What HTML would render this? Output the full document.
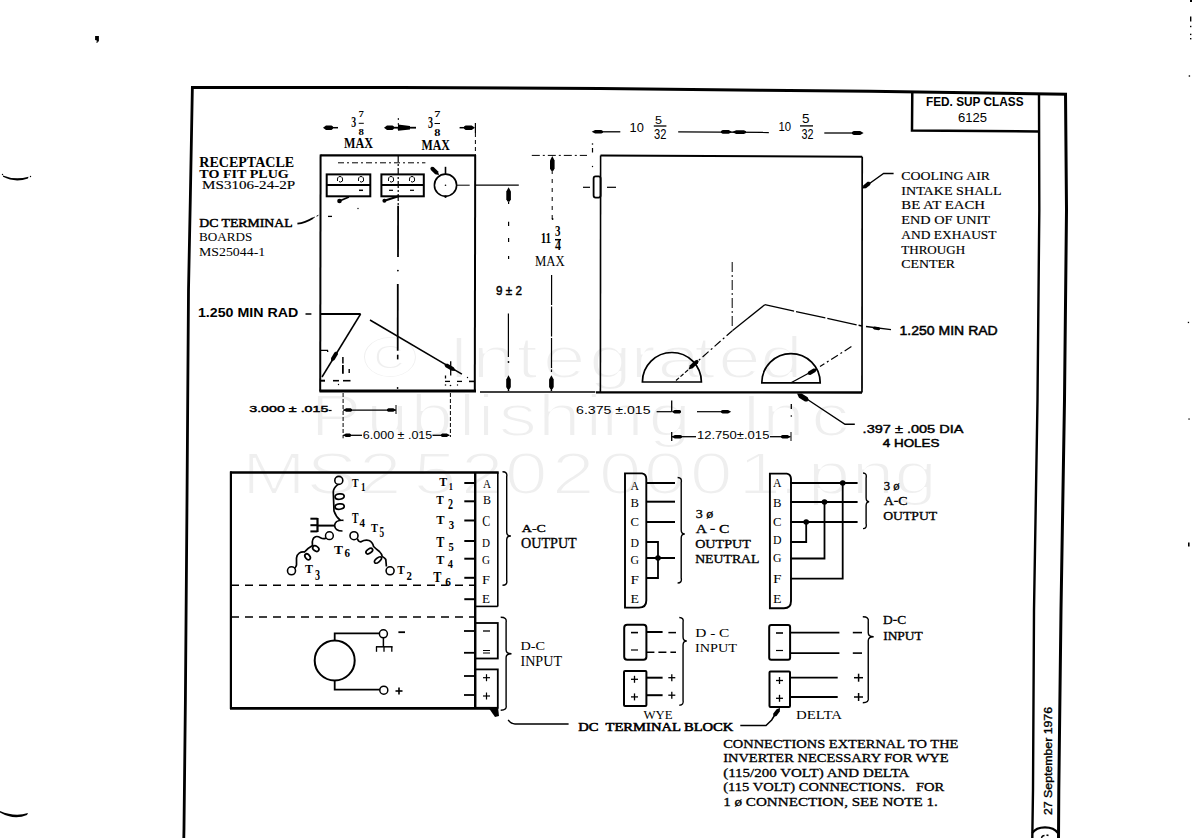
<!DOCTYPE html>
<html><head><meta charset="utf-8"><style>
html,body{margin:0;padding:0;background:#fff;}
body{width:1192px;height:838px;overflow:hidden;}
svg{display:block;}
</style></head><body>
<svg width="1192" height="838" viewBox="0 0 1192 838" stroke-linecap="butt">
<rect width="1192" height="838" fill="#fff"/>
<g font-family='"Liberation Sans", sans-serif' font-size="58.5" fill="#efefef" stroke="#fff" stroke-width="2">
<text transform="translate(361.51,378.4) scale(1.32,1)">©</text>
<text transform="translate(448.35,378.4) scale(1.32,1)">I</text>
<text transform="translate(472.15,378.4) scale(1.32,1)">n</text>
<text transform="translate(516.41,378.4) scale(1.32,1)">t</text>
<text transform="translate(542.80,378.4) scale(1.32,1)">e</text>
<text transform="translate(588.94,378.4) scale(1.32,1)">g</text>
<text transform="translate(630.15,378.4) scale(1.32,1)">r</text>
<text transform="translate(657.20,378.4) scale(1.32,1)">a</text>
<text transform="translate(693.91,378.4) scale(1.32,1)">t</text>
<text transform="translate(718.00,378.4) scale(1.32,1)">e</text>
<text transform="translate(760.04,378.4) scale(1.32,1)">d</text>
<text transform="translate(310.35,435.6) scale(1.32,1)">P</text>
<text transform="translate(365.67,435.6) scale(1.32,1)">u</text>
<text transform="translate(410.20,435.6) scale(1.32,1)">b</text>
<text transform="translate(458.58,435.6) scale(1.32,1)">l</text>
<text transform="translate(477.41,435.6) scale(1.32,1)">i</text>
<text transform="translate(498.53,435.6) scale(1.32,1)">s</text>
<text transform="translate(537.63,435.6) scale(1.32,1)">h</text>
<text transform="translate(585.21,435.6) scale(1.32,1)">i</text>
<text transform="translate(601.05,435.6) scale(1.32,1)">n</text>
<text transform="translate(648.24,435.6) scale(1.32,1)">g</text>
<text transform="translate(740.75,435.6) scale(1.32,1)">I</text>
<text transform="translate(762.05,435.6) scale(1.32,1)">n</text>
<text transform="translate(810.90,435.6) scale(1.32,1)">c</text>
<text transform="translate(241.85,494.2) scale(1.32,1)">M</text>
<text transform="translate(306.17,494.2) scale(1.32,1)">S</text>
<text transform="translate(358.80,494.2) scale(1.32,1)">2</text>
<text transform="translate(413.59,494.2) scale(1.32,1)">5</text>
<text transform="translate(460.80,494.2) scale(1.32,1)">2</text>
<text transform="translate(504.66,494.2) scale(1.32,1)">0</text>
<text transform="translate(551.80,494.2) scale(1.32,1)">2</text>
<text transform="translate(598.66,494.2) scale(1.32,1)">0</text>
<text transform="translate(643.66,494.2) scale(1.32,1)">0</text>
<text transform="translate(689.66,494.2) scale(1.32,1)">0</text>
<text transform="translate(738.30,494.2) scale(1.32,1)">1</text>
<text transform="translate(778.63,494.2) scale(1.32,1)">.</text>
<text transform="translate(807.50,494.2) scale(1.32,1)">p</text>
<text transform="translate(851.55,494.2) scale(1.32,1)">n</text>
<text transform="translate(894.14,494.2) scale(1.32,1)">g</text>
</g>
<path d="M95.1,36 L98.9,36 L98.9,41.5 L97.8,41.5 L97.3,43 L96.5,43 L96.8,40.5 L95.1,40 Z" fill="#000"/>
<path d="M3,175.5 Q15,180.5 28.5,176.8 L28,178.5 Q15,183 3,176.8 Z" fill="#000"/>
<circle cx="2.5" cy="174.5" r="0.7" fill="#000"/>
<circle cx="30.5" cy="176.5" r="0.7" fill="#000"/>
<path d="M0,811 Q15,817.3 28,813 L27,815 Q14,820.5 0,812.5 Z" fill="#000"/>
<rect x="1190" y="0" width="2" height="2" fill="#000"/>
<rect x="1190" y="16.5" width="1.4" height="5" fill="#000"/>
<rect x="1190" y="25.8" width="1.4" height="1.4" fill="#000"/>
<rect x="1190" y="33.699999999999996" width="1.4" height="1.4" fill="#000"/>
<rect x="1190" y="38.0" width="1.4" height="1.4" fill="#000"/>
<rect x="1188.7" y="75.3" width="1.4" height="1.4" fill="#000"/>
<rect x="1187.8" y="321.8" width="1.3" height="1.3" fill="#000"/>
<rect x="1188.4" y="418.4" width="1.3" height="1.3" fill="#000"/>
<rect x="1188" y="542.5" width="1.6" height="4" fill="#000"/>
<polyline points="191,87.5 400,87.6 600,88.5 760,90.2 870,91.2 1067,94.2" fill="none" stroke="#000" stroke-width="3"/>
<polyline points="192.4,86 190.3,200 188.5,290 187,500 185.4,700 184,828 183.8,838" fill="none" stroke="#000" stroke-width="2.8"/>
<polyline points="1065.5,93 1066.5,210 1064.5,400 1061,610 1058.8,790 1058.5,838" fill="none" stroke="#000" stroke-width="3"/>
<polyline points="1039,94 1039.3,210 1037.5,400 1034,610 1033,790 1032.3,838" fill="none" stroke="#000" stroke-width="2.4"/>
<polyline points="912.3,91 912,130.5 1038.5,131.5" fill="none" stroke="#000" stroke-width="2.5"/>
<text x="926.00" y="105.50" font-family='"Liberation Sans", sans-serif' font-weight="bold" font-size="12.35" fill="#000" textLength="97.5" lengthAdjust="spacingAndGlyphs" style="white-space:pre">FED. SUP CLASS</text>
<text x="958.00" y="122.00" font-family='"Liberation Sans", sans-serif' font-weight="normal" font-size="13.08" fill="#000" textLength="29.0" lengthAdjust="spacingAndGlyphs" style="white-space:pre">6125</text>
<path d="M1032.3,833 Q1036,827.3 1045,827.3 Q1054,827.3 1058,833" fill="none" stroke="#000" stroke-width="2.2"/>
<path d="M1041.5,838 Q1042,835.5 1044.5,835.5" fill="none" stroke="#000" stroke-width="1.4"/>
<line x1="1046.5" y1="835" x2="1048.5" y2="835.5" stroke="#000" stroke-width="1.8"/>
<text transform="translate(1052.3,815) rotate(-90)" font-family='"Liberation Sans", sans-serif' font-weight="normal" font-size="10.5" stroke="#000" stroke-width="0.35" textLength="108" lengthAdjust="spacingAndGlyphs">27 September 1976</text>
<line x1="320.5" y1="155.3" x2="475.2" y2="155.3" stroke="#000" stroke-width="2.2"/>
<line x1="320.6" y1="154.5" x2="320.2" y2="391.5" stroke="#000" stroke-width="2"/>
<line x1="475.2" y1="155" x2="474.8" y2="391.5" stroke="#000" stroke-width="2"/>
<line x1="319.5" y1="391" x2="476" y2="391" stroke="#000" stroke-width="2.8"/>
<path d="M323.00,127.70 L326.00,129.95 L331.50,129.95 L333.00,128.82 L333.00,126.58 L331.50,125.45 L326.00,125.45 Z" fill="#000"/>
<line x1="333" y1="127.7" x2="338" y2="127.7" stroke="#000" stroke-width="1.5"/>
<path d="M384.00,127.70 L387.00,129.95 L392.50,129.95 L394.00,128.82 L394.00,126.58 L392.50,125.45 L387.00,125.45 Z" fill="#000"/>
<line x1="394" y1="127.7" x2="416" y2="127.7" stroke="#000" stroke-width="1.8"/>
<path d="M398,124.5 L410,126 L410,129.5 L398,130.8 Z" fill="#000"/>
<path d="M475.00,127.70 L471.70,125.45 L465.65,125.45 L464.00,126.58 L464.00,128.82 L465.65,129.95 L471.70,129.95 Z" fill="#000"/>
<line x1="459.6" y1="127.7" x2="466" y2="127.7" stroke="#000" stroke-width="1.5"/>
<line x1="475.4" y1="123" x2="475.4" y2="133" stroke="#000" stroke-width="1.2"/>
<line x1="475.4" y1="133" x2="475.4" y2="155" stroke="#000" stroke-width="1" stroke-dasharray="4,3"/>
<line x1="398.3" y1="118" x2="398.3" y2="133" stroke="#000" stroke-width="1" stroke-dasharray="2,3"/>
<text x="351.30" y="126.80" font-family='"Liberation Serif", serif' font-weight="bold" font-size="13.59" fill="#000" textLength="4.9" lengthAdjust="spacingAndGlyphs" style="white-space:pre">3</text>
<text x="358.60" y="117.20" font-family='"Liberation Serif", serif' font-weight="bold" font-size="8.55" fill="#000" textLength="5.4" lengthAdjust="spacingAndGlyphs" style="white-space:pre">7</text>
<line x1="358.7" y1="123.3" x2="363.8" y2="123.3" stroke="#000" stroke-width="1"/>
<text x="358.60" y="135.00" font-family='"Liberation Serif", serif' font-weight="bold" font-size="9.16" fill="#000" textLength="5.4" lengthAdjust="spacingAndGlyphs" style="white-space:pre">8</text>
<text x="344.00" y="148.30" font-family='"Liberation Serif", serif' font-weight="bold" font-size="13.59" fill="#000" textLength="29.0" lengthAdjust="spacingAndGlyphs" style="white-space:pre">MAX</text>
<text x="428.00" y="127.80" font-family='"Liberation Serif", serif' font-weight="bold" font-size="16.03" fill="#000" textLength="5.0" lengthAdjust="spacingAndGlyphs" style="white-space:pre">3</text>
<text x="434.30" y="117.40" font-family='"Liberation Serif", serif' font-weight="bold" font-size="8.85" fill="#000" textLength="6.2" lengthAdjust="spacingAndGlyphs" style="white-space:pre">7</text>
<line x1="434.5" y1="123.5" x2="440" y2="123.5" stroke="#000" stroke-width="1"/>
<text x="434.30" y="135.80" font-family='"Liberation Serif", serif' font-weight="bold" font-size="9.92" fill="#000" textLength="6.2" lengthAdjust="spacingAndGlyphs" style="white-space:pre">8</text>
<text x="421.50" y="150.00" font-family='"Liberation Serif", serif' font-weight="bold" font-size="13.74" fill="#000" textLength="28.5" lengthAdjust="spacingAndGlyphs" style="white-space:pre">MAX</text>
<line x1="338" y1="162.8" x2="425.4" y2="162.8" stroke="#000" stroke-width="1" stroke-dasharray="6,3,2,3"/>
<rect x="326.7" y="174.4" width="43.60000000000002" height="21.900000000000006" rx="0" fill="none" stroke="#000" stroke-width="2"/>
<line x1="326.7" y1="184.9" x2="370.3" y2="184.9" stroke="#000" stroke-width="2"/>
<rect x="381.4" y="174.4" width="42.400000000000034" height="21.900000000000006" rx="0" fill="none" stroke="#000" stroke-width="2"/>
<line x1="381.4" y1="184.9" x2="423.8" y2="184.9" stroke="#000" stroke-width="2"/>
<path d="M337.5,181 Q337,176.5 340,176.5 Q343,176.5 342.5,181 Q340,183 339,181.5" fill="none" stroke="#000" stroke-width="1"/>
<path d="M358.5,181 Q358,176.5 361,176.5 Q364,176.5 363.5,181 Q361,183 360,181.5" fill="none" stroke="#000" stroke-width="1"/>
<path d="M388.5,181 Q388,176.5 391,176.5 Q394,176.5 393.5,181 Q391,183 390,181.5" fill="none" stroke="#000" stroke-width="1"/>
<path d="M409.5,181 Q409,176.5 412,176.5 Q415,176.5 414.5,181 Q412,183 411,181.5" fill="none" stroke="#000" stroke-width="1"/>
<line x1="359" y1="190.3" x2="363" y2="190.3" stroke="#000" stroke-width="1.5"/>
<line x1="389" y1="190.3" x2="393" y2="190.3" stroke="#000" stroke-width="1.2"/>
<line x1="410" y1="190.3" x2="414" y2="190.3" stroke="#000" stroke-width="1.2"/>
<circle cx="339.5" cy="201" r="2.3" fill="#000" stroke="#000" stroke-width="0"/>
<line x1="339.5" y1="201" x2="348.9" y2="197" stroke="#000" stroke-width="1.8"/>
<circle cx="384.4" cy="200.7" r="2" fill="#000" stroke="#000" stroke-width="0"/>
<line x1="384.4" y1="200.7" x2="398.5" y2="196.3" stroke="#000" stroke-width="2"/>
<line x1="398.2" y1="155" x2="398.2" y2="205" stroke="#000" stroke-width="1.2" stroke-dasharray="7,2,2,2"/>
<line x1="398.1" y1="205.7" x2="398" y2="257" stroke="#000" stroke-width="1.8"/>
<circle cx="397.9" cy="270.6" r="0.9" fill="#000"/>
<line x1="397.8" y1="284" x2="397.7" y2="350.8" stroke="#000" stroke-width="1.8"/>
<line x1="397.7" y1="354.7" x2="397.7" y2="359.4" stroke="#000" stroke-width="1.6"/>
<circle cx="397.6" cy="388" r="0.9" fill="#000"/>
<circle cx="445.5" cy="185.2" r="11.1" fill="none" stroke="#000" stroke-width="1.6"/>
<line x1="445.5" y1="166.8" x2="445.5" y2="174.5" stroke="#000" stroke-width="1.6"/>
<path d="M439.00,175.00 L437.98,171.27 L433.58,167.09 L431.69,166.68 L430.31,168.12 L430.82,169.99 L435.22,174.17 Z" fill="#000"/>
<line x1="456.6" y1="185.2" x2="469.7" y2="185.2" stroke="#000" stroke-width="1"/>
<line x1="475.5" y1="185.2" x2="518.8" y2="185.1" stroke="#000" stroke-width="1.3"/>
<circle cx="445.5" cy="185.2" r="0.8" fill="#000"/>
<circle cx="445.5" cy="196.6" r="1.3" fill="#000"/>
<line x1="328" y1="216.4" x2="332" y2="216.4" stroke="#000" stroke-width="1.3"/>
<circle cx="358" cy="208.5" r="0.7" fill="#000"/>
<text x="199.30" y="166.50" font-family='"Liberation Serif", serif' font-weight="bold" font-size="14.20" fill="#000" textLength="94.9" lengthAdjust="spacingAndGlyphs" style="white-space:pre">RECEPTACLE</text>
<text x="199.30" y="178.00" font-family='"Liberation Serif", serif' font-weight="bold" font-size="12.21" fill="#000" textLength="89.5" lengthAdjust="spacingAndGlyphs" style="white-space:pre">TO FIT PLUG</text>
<text x="202.07" y="189.33" font-family='"Liberation Serif", serif' font-weight="normal" font-size="12.90" fill="#000" stroke="#000" stroke-width="0.15" textLength="93.1" lengthAdjust="spacingAndGlyphs" style="white-space:pre">MS3106-24-2P</text>
<text x="199.25" y="227.05" font-family='"Liberation Serif", serif' font-weight="normal" font-size="13.44" fill="#000" stroke="#000" stroke-width="0.5" textLength="93.3" lengthAdjust="spacingAndGlyphs" style="white-space:pre">DC TERMINAL</text>
<text x="199.00" y="241.20" font-family='"Liberation Serif", serif' font-weight="normal" font-size="12.52" fill="#000" textLength="53.3" lengthAdjust="spacingAndGlyphs" style="white-space:pre">BOARDS</text>
<text x="199.00" y="256.40" font-family='"Liberation Serif", serif' font-weight="normal" font-size="11.60" fill="#000" textLength="66.2" lengthAdjust="spacingAndGlyphs" style="white-space:pre">MS25044-1</text>
<path d="M297.4,223.7 Q305,223 313,218" fill="none" stroke="#000" stroke-width="1.8"/>
<line x1="313" y1="218" x2="320" y2="214.5" stroke="#000" stroke-width="1" stroke-dasharray="2,2"/>
<text x="197.90" y="316.90" font-family='"Liberation Sans", sans-serif' font-weight="bold" font-size="13.37" fill="#000" textLength="100.4" lengthAdjust="spacingAndGlyphs" style="white-space:pre">1.250 MIN RAD</text>
<line x1="305.5" y1="314" x2="311.4" y2="314" stroke="#000" stroke-width="1.5"/>
<line x1="320.5" y1="314" x2="360.6" y2="314" stroke="#000" stroke-width="2"/>
<line x1="360.6" y1="314" x2="322" y2="377" stroke="#000" stroke-width="1.5"/>
<path d="M331.00,362.00 L334.51,360.03 L337.81,354.53 L337.86,352.51 L336.14,351.49 L334.39,352.47 L331.09,357.97 Z" fill="#000"/>
<line x1="370" y1="320" x2="461.9" y2="374.2" stroke="#000" stroke-width="1.5"/>
<path d="M456.00,371.00 L453.71,367.35 L447.66,363.83 L445.50,363.74 L444.50,365.46 L445.64,367.29 L451.69,370.81 Z" fill="#000"/>
<polyline points="320.5,350.3 327.5,350.3 327.8,352" fill="none" stroke="#000" stroke-width="1.3"/>
<line x1="320.5" y1="380.7" x2="325" y2="380.7" stroke="#000" stroke-width="2"/>
<line x1="469" y1="381.4" x2="475" y2="381.4" stroke="#000" stroke-width="1.6"/>
<line x1="342.9" y1="357" x2="342.9" y2="363.6" stroke="#000" stroke-width="1.5"/>
<line x1="342.9" y1="365" x2="342.9" y2="373.8" stroke="#000" stroke-width="1.8"/>
<line x1="349.2" y1="369" x2="349.2" y2="373" stroke="#000" stroke-width="1.4"/>
<line x1="333" y1="380.7" x2="339" y2="380.7" stroke="#000" stroke-width="1.6"/>
<line x1="343" y1="380.7" x2="350.5" y2="380.7" stroke="#000" stroke-width="1.6"/>
<circle cx="338.5" cy="384.5" r="0.7" fill="#000"/>
<line x1="450.7" y1="361.3" x2="450.7" y2="375.5" stroke="#000" stroke-width="1.3"/>
<line x1="445.5" y1="375.5" x2="445.5" y2="378.5" stroke="#000" stroke-width="1.3"/>
<line x1="445" y1="381.4" x2="450" y2="381.4" stroke="#000" stroke-width="1.3"/>
<line x1="457" y1="381.4" x2="462" y2="381.4" stroke="#000" stroke-width="1.3"/>
<circle cx="445.5" cy="385" r="0.8" fill="#000"/>
<circle cx="450.5" cy="385.5" r="0.8" fill="#000"/>
<circle cx="457.5" cy="385" r="0.7" fill="#000"/>
<circle cx="467.5" cy="377.5" r="0.7" fill="#000"/>
<text x="249.22" y="411.88" font-family='"Liberation Sans", sans-serif' font-weight="normal" font-size="9.52" fill="#000" stroke="#000" stroke-width="0.45" textLength="79.2" lengthAdjust="spacingAndGlyphs" style="white-space:pre">3.000 ± .015</text>
<line x1="328.6" y1="410.5" x2="331.6" y2="410.5" stroke="#000" stroke-width="1.2"/>
<line x1="343.1" y1="393" x2="343.1" y2="438.3" stroke="#000" stroke-width="1" stroke-dasharray="4,2"/>
<line x1="343.1" y1="410.1" x2="396" y2="410.1" stroke="#000" stroke-width="1.2"/>
<path d="M343.50,410.10 L346.05,411.85 L350.73,411.85 L352.00,410.98 L352.00,409.23 L350.73,408.35 L346.05,408.35 Z" fill="#000"/>
<path d="M396.00,410.10 L393.30,408.35 L388.35,408.35 L387.00,409.23 L387.00,410.98 L388.35,411.85 L393.30,411.85 Z" fill="#000"/>
<line x1="396" y1="405" x2="396" y2="414" stroke="#000" stroke-width="1"/>
<line x1="343.1" y1="435.3" x2="362" y2="435.3" stroke="#000" stroke-width="1.3"/>
<line x1="432.5" y1="435.3" x2="449.4" y2="435.3" stroke="#000" stroke-width="1.3"/>
<path d="M343.50,435.30 L345.75,437.05 L349.88,437.05 L351.00,436.18 L351.00,434.43 L349.88,433.55 L345.75,433.55 Z" fill="#000"/>
<path d="M449.40,435.30 L446.88,433.55 L442.26,433.55 L441.00,434.43 L441.00,436.18 L442.26,437.05 L446.88,437.05 Z" fill="#000"/>
<line x1="450.4" y1="393" x2="450.4" y2="437" stroke="#000" stroke-width="1" stroke-dasharray="4,2"/>
<text x="362.80" y="438.70" font-family='"Liberation Sans", sans-serif' font-weight="normal" font-size="10.76" fill="#000" textLength="69.5" lengthAdjust="spacingAndGlyphs" style="white-space:pre">6.000 ± .015</text>
<path d="M508.60,187.20 L506.30,191.49 L506.30,199.35 L507.45,201.50 L509.75,201.50 L510.90,199.35 L510.90,191.49 Z" fill="#000"/>
<line x1="508.6" y1="201.5" x2="508.6" y2="204" stroke="#000" stroke-width="1.2"/>
<line x1="508.6" y1="221.7" x2="508.6" y2="226" stroke="#000" stroke-width="1.2"/>
<line x1="508.6" y1="238" x2="508.6" y2="242" stroke="#000" stroke-width="1.2"/>
<line x1="508.6" y1="256" x2="508.6" y2="259" stroke="#000" stroke-width="1.2"/>
<text x="496.12" y="294.88" font-family='"Liberation Sans", sans-serif' font-weight="normal" font-size="12.72" fill="#000" stroke="#000" stroke-width="0.45" textLength="25.8" lengthAdjust="spacingAndGlyphs" style="white-space:pre">9 ± 2</text>
<line x1="508.4" y1="313.5" x2="508.4" y2="357" stroke="#000" stroke-width="1.2"/>
<circle cx="508.5" cy="362" r="0.9" fill="#000"/>
<path d="M508.50,375.30 L506.20,379.41 L506.20,386.94 L507.35,389.00 L509.65,389.00 L510.80,386.94 L510.80,379.41 Z" fill="#000"/>
<line x1="508.5" y1="389" x2="508.5" y2="391" stroke="#000" stroke-width="1.5"/>
<line x1="531.8" y1="155.4" x2="587" y2="155.4" stroke="#000" stroke-width="1" stroke-dasharray="8,3,2,3"/>
<path d="M552.30,156.00 L550.00,160.44 L550.00,168.58 L551.15,170.80 L553.45,170.80 L554.60,168.58 L554.60,160.44 Z" fill="#000"/>
<line x1="552.2" y1="170" x2="552.2" y2="222" stroke="#000" stroke-width="1" stroke-dasharray="4,5"/>
<text x="540.70" y="242.60" font-family='"Liberation Serif", serif' font-weight="bold" font-size="14.20" fill="#000" textLength="10.4" lengthAdjust="spacingAndGlyphs" style="white-space:pre">11</text>
<text x="555.00" y="235.80" font-family='"Liberation Serif", serif' font-weight="bold" font-size="14.81" fill="#000" textLength="5.5" lengthAdjust="spacingAndGlyphs" style="white-space:pre">3</text>
<line x1="555" y1="239.7" x2="561" y2="239.7" stroke="#000" stroke-width="1.5"/>
<text x="555.00" y="250.40" font-family='"Liberation Serif", serif' font-weight="bold" font-size="15.11" fill="#000" textLength="6.0" lengthAdjust="spacingAndGlyphs" style="white-space:pre">4</text>
<circle cx="552.6" cy="219" r="0.9" fill="#000"/>
<text x="535.00" y="265.80" font-family='"Liberation Serif", serif' font-weight="normal" font-size="13.59" fill="#000" textLength="29.7" lengthAdjust="spacingAndGlyphs" style="white-space:pre">MAX</text>
<line x1="551.6" y1="275" x2="551.5" y2="372" stroke="#000" stroke-width="1.2" stroke-dasharray="30,1.5"/>
<path d="M551.40,375.30 L549.10,379.41 L549.10,386.94 L550.25,389.00 L552.55,389.00 L553.70,386.94 L553.70,379.41 Z" fill="#000"/>
<line x1="551.4" y1="389" x2="551.4" y2="391" stroke="#000" stroke-width="1.5"/>
<line x1="480" y1="392" x2="595.3" y2="392" stroke="#000" stroke-width="1.6"/>
<line x1="600.5" y1="155.5" x2="862.2" y2="156.8" stroke="#000" stroke-width="2"/>
<line x1="600.6" y1="155.5" x2="600.4" y2="392" stroke="#000" stroke-width="1.6"/>
<line x1="862.2" y1="156.8" x2="862" y2="392.5" stroke="#000" stroke-width="1.7"/>
<line x1="596" y1="392.3" x2="862" y2="392.5" stroke="#000" stroke-width="2.3"/>
<rect x="593.6" y="176.4" width="7.0" height="21.19999999999999" rx="2" fill="none" stroke="#000" stroke-width="1.8"/>
<line x1="583" y1="187.3" x2="590" y2="187.3" stroke="#000" stroke-width="1.2"/>
<line x1="607" y1="187.3" x2="616" y2="187.3" stroke="#000" stroke-width="1.2"/>
<circle cx="592.5" cy="144" r="0.8" fill="#000"/>
<line x1="592.5" y1="148" x2="592.5" y2="152.5" stroke="#000" stroke-width="1.2"/>
<circle cx="592.5" cy="166.5" r="0.7" fill="#000"/>
<path d="M591.70,131.80 L595.09,133.60 L601.31,133.60 L603.00,132.70 L603.00,130.90 L601.31,130.00 L595.09,130.00 Z" fill="#000"/>
<line x1="603" y1="131.8" x2="620.3" y2="131.8" stroke="#000" stroke-width="1.3"/>
<line x1="678.2" y1="131.8" x2="768.8" y2="132.5" stroke="#000" stroke-width="1.3"/>
<path d="M732.00,132.00 L728.72,130.07 L722.67,130.02 L721.01,130.95 L720.99,132.85 L722.63,133.81 L728.68,133.87 Z" fill="#000"/>
<path d="M732.00,132.00 L736.19,133.93 L743.89,133.98 L745.99,133.05 L746.01,131.15 L743.91,130.19 L736.21,130.13 Z" fill="#000"/>
<line x1="824.3" y1="133" x2="852" y2="133" stroke="#000" stroke-width="1.3"/>
<path d="M863.60,133.00 L860.12,131.10 L853.74,131.10 L852.00,132.05 L852.00,133.95 L853.74,134.90 L860.12,134.90 Z" fill="#000"/>
<text x="629.50" y="131.80" font-family='"Liberation Sans", sans-serif' font-weight="normal" font-size="13.37" fill="#000" textLength="14.3" lengthAdjust="spacingAndGlyphs" style="white-space:pre">10</text>
<text x="655.00" y="124.30" font-family='"Liberation Sans", sans-serif' font-weight="normal" font-size="11.05" fill="#000" textLength="7.0" lengthAdjust="spacingAndGlyphs" style="white-space:pre">5</text>
<line x1="653.8" y1="126" x2="666.4" y2="126" stroke="#000" stroke-width="1.3"/>
<text x="654.00" y="138.60" font-family='"Liberation Sans", sans-serif' font-weight="normal" font-size="14.53" fill="#000" textLength="12.4" lengthAdjust="spacingAndGlyphs" style="white-space:pre">32</text>
<text x="778.40" y="131.40" font-family='"Liberation Sans", sans-serif' font-weight="normal" font-size="12.94" fill="#000" textLength="12.6" lengthAdjust="spacingAndGlyphs" style="white-space:pre">10</text>
<text x="802.00" y="122.50" font-family='"Liberation Sans", sans-serif' font-weight="normal" font-size="12.06" fill="#000" textLength="7.5" lengthAdjust="spacingAndGlyphs" style="white-space:pre">5</text>
<line x1="800" y1="125.9" x2="813" y2="125.9" stroke="#000" stroke-width="1.3"/>
<text x="801.50" y="139.00" font-family='"Liberation Sans", sans-serif' font-weight="normal" font-size="15.26" fill="#000" textLength="12.0" lengthAdjust="spacingAndGlyphs" style="white-space:pre">32</text>
<line x1="732.2" y1="262" x2="732.2" y2="328" stroke="#000" stroke-width="1" stroke-dasharray="10,3,2,3"/>
<path d="M642.4,382 A29.5,29.5 0 0 1 701.4,382 Z" fill="none" stroke="#000" stroke-width="1.7"/>
<path d="M761.8,382.8 A29.2,29.2 0 0 1 820.2,382.8 Z" fill="none" stroke="#000" stroke-width="1.7"/>
<line x1="764.8" y1="304.7" x2="732.6" y2="330.5" stroke="#000" stroke-width="1.3"/>
<line x1="732.6" y1="330.5" x2="690" y2="368" stroke="#000" stroke-width="1.2" stroke-dasharray="8,3,2,3"/>
<path d="M688.50,369.50 L692.73,368.25 L697.95,363.30 L698.69,361.23 L697.31,359.77 L695.20,360.40 L689.97,365.35 Z" fill="#000"/>
<line x1="688" y1="370" x2="676" y2="380.5" stroke="#000" stroke-width="1.2" stroke-dasharray="4,2"/>
<line x1="764.8" y1="304.7" x2="862" y2="326" stroke="#000" stroke-width="1.3" stroke-dasharray="30,2"/>
<line x1="866" y1="326.5" x2="891" y2="329.6" stroke="#000" stroke-width="1.3"/>
<path d="M872.00,327.50 L874.12,329.42 L878.52,330.25 L879.86,329.74 L880.14,328.26 L879.08,327.30 L874.68,326.48 Z" fill="#000"/>
<line x1="851.4" y1="346.6" x2="820" y2="366.5" stroke="#000" stroke-width="1.2" stroke-dasharray="8,3,2,3"/>
<path d="M817.20,368.70 L813.44,368.56 L808.38,371.47 L807.50,373.13 L808.50,374.87 L810.38,374.94 L815.44,372.02 Z" fill="#000"/>
<line x1="817" y1="368.7" x2="791" y2="382.8" stroke="#000" stroke-width="1.3"/>
<path d="M893.6,173.5 L883.6,173.5 L866,186" fill="none" stroke="#000" stroke-width="1.4"/>
<path d="M862.50,188.50 L866.00,188.26 L870.12,184.96 L870.62,183.28 L869.38,181.72 L867.63,181.84 L863.50,185.14 Z" fill="#000"/>
<path d="M854.8,424.3 L845,424.3 L806,398.5" fill="none" stroke="#000" stroke-width="1.4"/>
<path d="M797.00,393.50 L798.96,397.71 L805.01,401.56 L807.33,401.55 L808.67,399.45 L807.69,397.34 L801.64,393.49 Z" fill="#000"/>
<text x="899.55" y="335.05" font-family='"Liberation Sans", sans-serif' font-weight="normal" font-size="13.08" fill="#000" stroke="#000" stroke-width="0.5" textLength="98.2" lengthAdjust="spacingAndGlyphs" style="white-space:pre">1.250 MIN RAD</text>
<text x="862.60" y="432.50" font-family='"Liberation Sans", sans-serif' font-weight="normal" font-size="10.61" fill="#000" stroke="#000" stroke-width="0.4" textLength="100.8" lengthAdjust="spacingAndGlyphs" style="white-space:pre">.397 ± .005 DIA</text>
<text x="882.75" y="446.75" font-family='"Liberation Sans", sans-serif' font-weight="normal" font-size="11.77" fill="#000" stroke="#000" stroke-width="0.5" textLength="56.7" lengthAdjust="spacingAndGlyphs" style="white-space:pre">4 HOLES</text>
<text x="576.10" y="413.80" font-family='"Liberation Sans", sans-serif' font-weight="normal" font-size="11.19" fill="#000" textLength="74.5" lengthAdjust="spacingAndGlyphs" style="white-space:pre">6.375 ±.015</text>
<line x1="656.6" y1="411.7" x2="671.7" y2="411.7" stroke="#000" stroke-width="1.2"/>
<path d="M671.70,411.70 L674.49,413.50 L679.61,413.50 L681.00,412.60 L681.00,410.80 L679.61,409.90 L674.49,409.90 Z" fill="#000"/>
<line x1="697" y1="411.7" x2="722" y2="411.7" stroke="#000" stroke-width="1.2"/>
<path d="M731.10,411.70 L728.07,409.90 L722.51,409.90 L721.00,410.80 L721.00,412.60 L722.51,413.50 L728.07,413.50 Z" fill="#000"/>
<line x1="671.7" y1="400.5" x2="671.7" y2="411.7" stroke="#000" stroke-width="1.3"/>
<line x1="791.3" y1="404" x2="791.3" y2="409" stroke="#000" stroke-width="1.3"/>
<circle cx="791.3" cy="416" r="0.8" fill="#000"/>
<line x1="671.7" y1="436.7" x2="696" y2="436.7" stroke="#000" stroke-width="1.3"/>
<path d="M671.70,436.70 L674.79,438.50 L680.46,438.50 L682.00,437.60 L682.00,435.80 L680.46,434.90 L674.79,434.90 Z" fill="#000"/>
<line x1="671.7" y1="432" x2="671.7" y2="441" stroke="#000" stroke-width="1.3"/>
<line x1="770" y1="436.7" x2="790.5" y2="436.7" stroke="#000" stroke-width="1.3"/>
<path d="M790.50,436.70 L787.65,434.90 L782.42,434.90 L781.00,435.80 L781.00,437.60 L782.42,438.50 L787.65,438.50 Z" fill="#000"/>
<line x1="791" y1="432" x2="791" y2="441" stroke="#000" stroke-width="1"/>
<text x="696.90" y="439.30" font-family='"Liberation Sans", sans-serif' font-weight="normal" font-size="11.63" fill="#000" textLength="72.5" lengthAdjust="spacingAndGlyphs" style="white-space:pre">12.750±.015</text>
<text x="901.28" y="179.93" font-family='"Liberation Serif", serif' font-weight="normal" font-size="12.75" fill="#000" stroke="#000" stroke-width="0.15" textLength="88.8" lengthAdjust="spacingAndGlyphs" style="white-space:pre">COOLING AIR</text>
<text x="901.28" y="194.93" font-family='"Liberation Serif", serif' font-weight="normal" font-size="11.68" fill="#000" stroke="#000" stroke-width="0.15" textLength="100.3" lengthAdjust="spacingAndGlyphs" style="white-space:pre">INTAKE SHALL</text>
<text x="901.28" y="209.33" font-family='"Liberation Serif", serif' font-weight="normal" font-size="11.83" fill="#000" stroke="#000" stroke-width="0.15" textLength="83.8" lengthAdjust="spacingAndGlyphs" style="white-space:pre">BE AT EACH</text>
<text x="901.28" y="223.93" font-family='"Liberation Serif", serif' font-weight="normal" font-size="11.83" fill="#000" stroke="#000" stroke-width="0.15" textLength="88.8" lengthAdjust="spacingAndGlyphs" style="white-space:pre">END OF UNIT</text>
<text x="901.28" y="238.93" font-family='"Liberation Serif", serif' font-weight="normal" font-size="12.14" fill="#000" stroke="#000" stroke-width="0.15" textLength="95.3" lengthAdjust="spacingAndGlyphs" style="white-space:pre">AND EXHAUST</text>
<text x="901.28" y="253.73" font-family='"Liberation Serif", serif' font-weight="normal" font-size="11.83" fill="#000" stroke="#000" stroke-width="0.15" textLength="63.8" lengthAdjust="spacingAndGlyphs" style="white-space:pre">THROUGH</text>
<text x="901.28" y="268.03" font-family='"Liberation Serif", serif' font-weight="normal" font-size="11.83" fill="#000" stroke="#000" stroke-width="0.15" textLength="53.8" lengthAdjust="spacingAndGlyphs" style="white-space:pre">CENTER</text>
<line x1="230" y1="472.5" x2="498.7" y2="472.5" stroke="#000" stroke-width="2.4"/>
<line x1="230.9" y1="471.5" x2="230.9" y2="709" stroke="#000" stroke-width="2.2"/>
<line x1="230" y1="708.3" x2="497" y2="708.3" stroke="#000" stroke-width="2.8"/>
<line x1="475.2" y1="472.5" x2="475.2" y2="708.3" stroke="#000" stroke-width="2.4"/>
<line x1="497.8" y1="472.5" x2="497.8" y2="606.4" stroke="#000" stroke-width="1.6"/>
<line x1="475.2" y1="606.4" x2="497.8" y2="606.4" stroke="#000" stroke-width="1.6"/>
<line x1="231" y1="585.2" x2="476" y2="585.2" stroke="#000" stroke-width="1.6" stroke-dasharray="8,6"/>
<line x1="231" y1="617" x2="476" y2="617" stroke="#000" stroke-width="1.6" stroke-dasharray="8,6"/>
<text x="483.00" y="487.50" font-family='"Liberation Serif", serif' font-weight="normal" font-size="12.06" fill="#000" textLength="8.0" lengthAdjust="spacingAndGlyphs" style="white-space:pre">A</text>
<line x1="464.3" y1="483" x2="476" y2="483" stroke="#000" stroke-width="2"/>
<text x="483.00" y="504.30" font-family='"Liberation Serif", serif' font-weight="normal" font-size="11.60" fill="#000" textLength="8.0" lengthAdjust="spacingAndGlyphs" style="white-space:pre">B</text>
<line x1="464.3" y1="501.3" x2="476" y2="501.3" stroke="#000" stroke-width="2"/>
<text x="482.20" y="525.60" font-family='"Liberation Serif", serif' font-weight="normal" font-size="14.05" fill="#000" textLength="8.0" lengthAdjust="spacingAndGlyphs" style="white-space:pre">C</text>
<line x1="464.3" y1="520.5" x2="476" y2="520.5" stroke="#000" stroke-width="2"/>
<text x="482.00" y="546.70" font-family='"Liberation Serif", serif' font-weight="normal" font-size="13.13" fill="#000" textLength="8.0" lengthAdjust="spacingAndGlyphs" style="white-space:pre">D</text>
<line x1="464.3" y1="541" x2="476" y2="541" stroke="#000" stroke-width="2"/>
<text x="482.00" y="563.90" font-family='"Liberation Serif", serif' font-weight="normal" font-size="13.13" fill="#000" textLength="8.0" lengthAdjust="spacingAndGlyphs" style="white-space:pre">G</text>
<line x1="464.3" y1="558.7" x2="476" y2="558.7" stroke="#000" stroke-width="2"/>
<text x="482.00" y="583.50" font-family='"Liberation Serif", serif' font-weight="normal" font-size="12.37" fill="#000" textLength="8.0" lengthAdjust="spacingAndGlyphs" style="white-space:pre">F</text>
<line x1="464.3" y1="577.8" x2="476" y2="577.8" stroke="#000" stroke-width="2"/>
<text x="482.00" y="603.00" font-family='"Liberation Serif", serif' font-weight="normal" font-size="12.21" fill="#000" textLength="8.0" lengthAdjust="spacingAndGlyphs" style="white-space:pre">E</text>
<line x1="464.3" y1="599.2" x2="476" y2="599.2" stroke="#000" stroke-width="2"/>
<text x="439.20" y="486.30" font-family='"Liberation Serif", serif' font-weight="bold" font-size="12.82" fill="#000" textLength="7.9" lengthAdjust="spacingAndGlyphs" style="white-space:pre">T</text>
<text x="448.80" y="489.60" font-family='"Liberation Serif", serif' font-weight="bold" font-size="10.84" fill="#000" textLength="4.2" lengthAdjust="spacingAndGlyphs" style="white-space:pre">1</text>
<text x="436.30" y="504.30" font-family='"Liberation Serif", serif' font-weight="bold" font-size="12.82" fill="#000" textLength="7.5" lengthAdjust="spacingAndGlyphs" style="white-space:pre">T</text>
<text x="448.00" y="509.30" font-family='"Liberation Serif", serif' font-weight="bold" font-size="14.66" fill="#000" textLength="5.0" lengthAdjust="spacingAndGlyphs" style="white-space:pre">2</text>
<text x="436.30" y="524.30" font-family='"Liberation Serif", serif' font-weight="bold" font-size="13.44" fill="#000" textLength="8.3" lengthAdjust="spacingAndGlyphs" style="white-space:pre">T</text>
<text x="448.80" y="529.30" font-family='"Liberation Serif", serif' font-weight="bold" font-size="13.44" fill="#000" textLength="5.4" lengthAdjust="spacingAndGlyphs" style="white-space:pre">3</text>
<text x="436.20" y="546.70" font-family='"Liberation Serif", serif' font-weight="bold" font-size="14.50" fill="#000" textLength="8.1" lengthAdjust="spacingAndGlyphs" style="white-space:pre">T</text>
<text x="448.60" y="550.50" font-family='"Liberation Serif", serif' font-weight="bold" font-size="11.60" fill="#000" textLength="5.3" lengthAdjust="spacingAndGlyphs" style="white-space:pre">5</text>
<text x="436.20" y="563.90" font-family='"Liberation Serif", serif' font-weight="bold" font-size="13.13" fill="#000" textLength="8.1" lengthAdjust="spacingAndGlyphs" style="white-space:pre">T</text>
<text x="447.70" y="567.70" font-family='"Liberation Serif", serif' font-weight="bold" font-size="12.37" fill="#000" textLength="5.2" lengthAdjust="spacingAndGlyphs" style="white-space:pre">4</text>
<text x="433.30" y="582.00" font-family='"Liberation Serif", serif' font-weight="bold" font-size="13.74" fill="#000" textLength="8.2" lengthAdjust="spacingAndGlyphs" style="white-space:pre">T</text>
<text x="445.30" y="586.40" font-family='"Liberation Serif", serif' font-weight="bold" font-size="11.76" fill="#000" textLength="5.7" lengthAdjust="spacingAndGlyphs" style="white-space:pre">6</text>
<path d="M502.5,471.7 Q507.7,471.7 506.7,476.7 L506.7,532 Q506.7,536 510.9,536 Q506.7,536 506.7,540 L506.7,580.3 Q507.7,585.3 502.5,585.3" fill="none" stroke="#000" stroke-width="1.4"/>
<text x="521.85" y="531.65" font-family='"Liberation Serif", serif' font-weight="normal" font-size="10.99" fill="#000" stroke="#000" stroke-width="0.3" textLength="24.0" lengthAdjust="spacingAndGlyphs" style="white-space:pre">A-C</text>
<text x="521.05" y="547.55" font-family='"Liberation Serif", serif' font-weight="normal" font-size="13.59" fill="#000" stroke="#000" stroke-width="0.3" textLength="55.7" lengthAdjust="spacingAndGlyphs" style="white-space:pre">OUTPUT</text>
<rect x="475.2" y="623" width="22.600000000000023" height="35.5" rx="0" fill="none" stroke="#000" stroke-width="1.8"/>
<rect x="475.2" y="669.4" width="22.600000000000023" height="38.39999999999998" rx="0" fill="none" stroke="#000" stroke-width="1.8"/>
<line x1="464" y1="631" x2="475" y2="631" stroke="#000" stroke-width="1.8"/>
<line x1="464" y1="652.8" x2="475" y2="652.8" stroke="#000" stroke-width="1.8"/>
<line x1="464" y1="676" x2="475" y2="676" stroke="#000" stroke-width="1.8"/>
<line x1="464" y1="695" x2="475" y2="695" stroke="#000" stroke-width="1.8"/>
<line x1="483" y1="631" x2="490" y2="631" stroke="#000" stroke-width="1.3"/>
<line x1="483" y1="650.5" x2="490" y2="650.5" stroke="#000" stroke-width="1"/>
<line x1="483" y1="653" x2="490" y2="653" stroke="#000" stroke-width="1"/>
<line x1="483" y1="677.7" x2="490" y2="677.7" stroke="#000" stroke-width="1.2"/>
<line x1="486.5" y1="674.2" x2="486.5" y2="681.2" stroke="#000" stroke-width="1.2"/>
<line x1="483" y1="696" x2="490" y2="696" stroke="#000" stroke-width="1.2"/>
<line x1="486.5" y1="692.5" x2="486.5" y2="699.5" stroke="#000" stroke-width="1.2"/>
<path d="M500.7,617.2 Q507.1,617.2 506.1,622.2 L506.1,649.7 Q506.1,653.7 511.5,653.7 Q506.1,653.7 506.1,657.7 L506.1,705.3 Q507.1,710.3 500.7,710.3" fill="none" stroke="#000" stroke-width="1.4"/>
<text x="520.50" y="650.10" font-family='"Liberation Serif", serif' font-weight="normal" font-size="13.13" fill="#000" textLength="24.6" lengthAdjust="spacingAndGlyphs" style="white-space:pre">D-C</text>
<text x="520.50" y="666.20" font-family='"Liberation Serif", serif' font-weight="normal" font-size="13.59" fill="#000" textLength="41.5" lengthAdjust="spacingAndGlyphs" style="white-space:pre">INPUT</text>
<circle cx="334.7" cy="660.5" r="20" fill="none" stroke="#000" stroke-width="2"/>
<polyline points="334.7,640.5 334.7,633.4 379.4,633.4" fill="none" stroke="#000" stroke-width="1.8"/>
<circle cx="383.4" cy="633.8" r="4" fill="none" stroke="#000" stroke-width="1.5"/>
<line x1="398.4" y1="632.2" x2="405" y2="632.2" stroke="#000" stroke-width="1.8"/>
<line x1="383.4" y1="637.8" x2="383.4" y2="646.8" stroke="#000" stroke-width="1.5"/>
<line x1="375.9" y1="646.8" x2="392.6" y2="646.8" stroke="#000" stroke-width="1.5"/>
<line x1="376.5" y1="646.8" x2="376.5" y2="651.8" stroke="#000" stroke-width="1.3"/>
<line x1="384" y1="646.8" x2="384" y2="651.8" stroke="#000" stroke-width="1.3"/>
<line x1="391.8" y1="646.8" x2="391.8" y2="651.8" stroke="#000" stroke-width="1.3"/>
<polyline points="334.7,680.5 334.7,689.7 379.8,689.7" fill="none" stroke="#000" stroke-width="1.8"/>
<circle cx="383.8" cy="690.2" r="4" fill="none" stroke="#000" stroke-width="1.5"/>
<line x1="395.5" y1="691" x2="402.5" y2="691" stroke="#000" stroke-width="1.6"/>
<line x1="399" y1="687.5" x2="399" y2="694.5" stroke="#000" stroke-width="1.6"/>
<path d="M488,707 L498,707 L499,716 L495,717 Z" fill="#000"/>
<path d="M508.2,719.8 Q511,723.9 515,723.9 L568.6,724" fill="none" stroke="#000" stroke-width="1.5"/>
<text x="578.27" y="730.73" font-family='"Liberation Serif", serif' font-weight="normal" font-size="12.14" fill="#000" stroke="#000" stroke-width="0.55" textLength="155.1" lengthAdjust="spacingAndGlyphs" style="white-space:pre">DC  TERMINAL BLOCK</text>
<path d="M740.3,725.6 L766,725.6 L771.7,720 L776,713" fill="none" stroke="#000" stroke-width="1.5"/>
<path d="M780.00,708.00 L776.60,709.20 L773.30,713.60 L773.20,715.40 L774.80,716.60 L776.50,716.00 L779.80,711.60 Z" fill="#000"/>
<circle cx="338.8" cy="480.4" r="4" fill="none" stroke="#000" stroke-width="1.6"/>
<text x="352.00" y="486.70" font-family='"Liberation Serif", serif' font-weight="bold" font-size="12.67" fill="#000" textLength="6.6" lengthAdjust="spacingAndGlyphs" style="white-space:pre">T</text>
<text x="361.00" y="491.00" font-family='"Liberation Serif", serif' font-weight="bold" font-size="12.21" fill="#000" textLength="4.5" lengthAdjust="spacingAndGlyphs" style="white-space:pre">1</text>
<path d="M338,484.4 Q333,488.5 333.3,492.5 L334,511 Q336,517 340.5,520.5" fill="none" stroke="#000" stroke-width="1.7"/>
<ellipse cx="339.6" cy="496.6" rx="4.6" ry="2.7" transform="rotate(-8 339.6 496.6)" fill="none" stroke="#000" stroke-width="1.7"/>
<ellipse cx="339.6" cy="506.6" rx="4.6" ry="2.7" transform="rotate(-8 339.6 506.6)" fill="none" stroke="#000" stroke-width="1.7"/>
<path d="M343.5,520.3 Q335,519.8 334.6,525.5 Q335,531 342.5,531" fill="none" stroke="#000" stroke-width="1.7"/>
<line x1="317.5" y1="525.6" x2="334.6" y2="525.6" stroke="#000" stroke-width="2"/>
<line x1="317.5" y1="518" x2="317.5" y2="532" stroke="#000" stroke-width="2.2"/>
<line x1="310.4" y1="518.7" x2="317.5" y2="518.7" stroke="#000" stroke-width="2"/>
<line x1="310.4" y1="525.2" x2="317.5" y2="525.2" stroke="#000" stroke-width="2"/>
<line x1="310.4" y1="531.4" x2="317.5" y2="531.4" stroke="#000" stroke-width="2"/>
<circle cx="329.4" cy="535.7" r="3.9" fill="none" stroke="#000" stroke-width="1.5"/>
<path d="M325.8,538 C322,541 319.5,535 315.5,536.8 C311.5,538.5 312,542.5 312.5,545.5 C309,547.5 306.5,549.5 304.5,552 C300.5,551.5 297,553.5 296.5,558 L296.5,565 C296,567 295,568 294.5,568.5" fill="none" stroke="#000" stroke-width="1.7"/>
<ellipse cx="315.8" cy="548.6" rx="3.4" ry="2.4" transform="rotate(35 315.8 548.6)" fill="none" stroke="#000" stroke-width="1.7"/>
<ellipse cx="307.6" cy="556.8" rx="3.3" ry="2.2" transform="rotate(50 307.6 556.8)" fill="none" stroke="#000" stroke-width="1.7"/>
<circle cx="291.5" cy="570.8" r="4" fill="none" stroke="#000" stroke-width="1.6"/>
<circle cx="354" cy="535.7" r="4" fill="none" stroke="#000" stroke-width="1.6"/>
<path d="M357.5,538.5 Q358,542 361,541.8 Q365,539.5 369,540.5 Q372.5,542 373.6,546.5 Q376,549 379.4,551.5 Q382,554 382.2,556.5 Q385,558 385.8,559.5 L386.4,566.5" fill="none" stroke="#000" stroke-width="1.7"/>
<ellipse cx="369.3" cy="551.1" rx="3.8" ry="2.1" transform="rotate(-35 369.3 551.1)" fill="none" stroke="#000" stroke-width="1.7"/>
<ellipse cx="378" cy="560" rx="4.2" ry="2" transform="rotate(-40 378 560)" fill="none" stroke="#000" stroke-width="1.7"/>
<circle cx="390.1" cy="570.8" r="4" fill="none" stroke="#000" stroke-width="1.6"/>
<text x="352.00" y="522.60" font-family='"Liberation Serif", serif' font-weight="bold" font-size="14.05" fill="#000" textLength="6.5" lengthAdjust="spacingAndGlyphs" style="white-space:pre">T</text>
<text x="359.50" y="527.00" font-family='"Liberation Serif", serif' font-weight="bold" font-size="12.21" fill="#000" textLength="5.5" lengthAdjust="spacingAndGlyphs" style="white-space:pre">4</text>
<text x="371.00" y="531.50" font-family='"Liberation Serif", serif' font-weight="bold" font-size="12.98" fill="#000" textLength="7.0" lengthAdjust="spacingAndGlyphs" style="white-space:pre">T</text>
<text x="379.40" y="536.50" font-family='"Liberation Serif", serif' font-weight="bold" font-size="15.42" fill="#000" textLength="4.6" lengthAdjust="spacingAndGlyphs" style="white-space:pre">5</text>
<text x="334.00" y="553.60" font-family='"Liberation Serif", serif' font-weight="bold" font-size="12.52" fill="#000" textLength="9.0" lengthAdjust="spacingAndGlyphs" style="white-space:pre">T</text>
<text x="344.50" y="557.00" font-family='"Liberation Serif", serif' font-weight="bold" font-size="12.98" fill="#000" textLength="5.5" lengthAdjust="spacingAndGlyphs" style="white-space:pre">6</text>
<text x="305.00" y="572.60" font-family='"Liberation Serif", serif' font-weight="bold" font-size="12.52" fill="#000" textLength="8.0" lengthAdjust="spacingAndGlyphs" style="white-space:pre">T</text>
<text x="315.00" y="579.80" font-family='"Liberation Serif", serif' font-weight="bold" font-size="14.20" fill="#000" textLength="5.0" lengthAdjust="spacingAndGlyphs" style="white-space:pre">3</text>
<text x="397.30" y="573.70" font-family='"Liberation Serif", serif' font-weight="bold" font-size="13.28" fill="#000" textLength="7.5" lengthAdjust="spacingAndGlyphs" style="white-space:pre">T</text>
<text x="406.60" y="580.10" font-family='"Liberation Serif", serif' font-weight="bold" font-size="13.13" fill="#000" textLength="5.4" lengthAdjust="spacingAndGlyphs" style="white-space:pre">2</text>
<path d="M625,607.6 L625,473.4 L642,473.4 Q646.3,474 646.3,479 L646.3,600.5 Q646.3,607.6 639,607.6 Z" fill="none" stroke="#000" stroke-width="1.9"/>
<text x="630.50" y="489.90" font-family='"Liberation Serif", serif' font-weight="normal" font-size="13.13" fill="#000" textLength="8.5" lengthAdjust="spacingAndGlyphs" style="white-space:pre">A</text>
<text x="630.50" y="506.90" font-family='"Liberation Serif", serif' font-weight="normal" font-size="13.13" fill="#000" textLength="8.5" lengthAdjust="spacingAndGlyphs" style="white-space:pre">B</text>
<text x="630.50" y="526.30" font-family='"Liberation Serif", serif' font-weight="normal" font-size="13.13" fill="#000" textLength="8.5" lengthAdjust="spacingAndGlyphs" style="white-space:pre">C</text>
<text x="630.50" y="547.20" font-family='"Liberation Serif", serif' font-weight="normal" font-size="13.13" fill="#000" textLength="8.5" lengthAdjust="spacingAndGlyphs" style="white-space:pre">D</text>
<text x="630.50" y="564.20" font-family='"Liberation Serif", serif' font-weight="normal" font-size="13.13" fill="#000" textLength="8.5" lengthAdjust="spacingAndGlyphs" style="white-space:pre">G</text>
<text x="630.50" y="583.80" font-family='"Liberation Serif", serif' font-weight="normal" font-size="13.13" fill="#000" textLength="8.5" lengthAdjust="spacingAndGlyphs" style="white-space:pre">F</text>
<text x="630.50" y="602.60" font-family='"Liberation Serif", serif' font-weight="normal" font-size="13.13" fill="#000" textLength="8.5" lengthAdjust="spacingAndGlyphs" style="white-space:pre">E</text>
<line x1="646.3" y1="483" x2="675" y2="483" stroke="#000" stroke-width="2"/>
<line x1="646.3" y1="501.7" x2="675" y2="501.7" stroke="#000" stroke-width="2"/>
<line x1="646.3" y1="522" x2="675" y2="522" stroke="#000" stroke-width="2"/>
<line x1="646.3" y1="558" x2="675" y2="558" stroke="#000" stroke-width="2"/>
<polyline points="646.3,542 658,542 658,578 646.3,578" fill="none" stroke="#000" stroke-width="1.8"/>
<circle cx="658" cy="558" r="2.8" fill="#000"/>
<path d="M677.6,477.5 Q682.2,477.5 681.2,482.5 L681.2,530 Q681.2,534 684.8,534 Q681.2,534 681.2,538 L681.2,578 Q682.2,583 677.6,583" fill="none" stroke="#000" stroke-width="1.4"/>
<text x="695.65" y="517.65" font-family='"Liberation Serif", serif' font-weight="normal" font-size="11.91" fill="#000" stroke="#000" stroke-width="0.3" textLength="17.6" lengthAdjust="spacingAndGlyphs" style="white-space:pre">3 ø</text>
<text x="695.65" y="532.85" font-family='"Liberation Serif", serif' font-weight="normal" font-size="11.76" fill="#000" stroke="#000" stroke-width="0.3" textLength="33.7" lengthAdjust="spacingAndGlyphs" style="white-space:pre">A - C</text>
<text x="695.15" y="548.05" font-family='"Liberation Serif", serif' font-weight="normal" font-size="12.06" fill="#000" stroke="#000" stroke-width="0.3" textLength="55.7" lengthAdjust="spacingAndGlyphs" style="white-space:pre">OUTPUT</text>
<text x="695.15" y="563.25" font-family='"Liberation Serif", serif' font-weight="normal" font-size="11.76" fill="#000" stroke="#000" stroke-width="0.3" textLength="64.3" lengthAdjust="spacingAndGlyphs" style="white-space:pre">NEUTRAL</text>
<rect x="624.2" y="624.7" width="22.199999999999932" height="35.09999999999991" rx="3" fill="none" stroke="#000" stroke-width="2"/>
<line x1="631" y1="632.6" x2="638" y2="632.6" stroke="#000" stroke-width="1.6"/>
<line x1="631" y1="650" x2="638" y2="650" stroke="#000" stroke-width="1.2"/>
<line x1="646.4" y1="632" x2="662.6" y2="632" stroke="#000" stroke-width="2"/>
<line x1="668.4" y1="632.6" x2="676" y2="632.6" stroke="#000" stroke-width="1.5"/>
<line x1="646.4" y1="652.3" x2="676" y2="652.3" stroke="#000" stroke-width="1.4" stroke-dasharray="8,4"/>
<rect x="624" y="671" width="22.399999999999977" height="35" rx="1" fill="none" stroke="#000" stroke-width="2"/>
<line x1="631" y1="679.3" x2="638" y2="679.3" stroke="#000" stroke-width="1.3"/>
<line x1="634.5" y1="675.8" x2="634.5" y2="682.8" stroke="#000" stroke-width="1.3"/>
<line x1="631" y1="696.9" x2="638" y2="696.9" stroke="#000" stroke-width="1.3"/>
<line x1="634.5" y1="693.4" x2="634.5" y2="700.4" stroke="#000" stroke-width="1.3"/>
<line x1="646.4" y1="677.7" x2="662.6" y2="677.7" stroke="#000" stroke-width="2"/>
<line x1="668.3" y1="677.7" x2="675.3" y2="677.7" stroke="#000" stroke-width="1.3"/>
<line x1="671.8" y1="674.2" x2="671.8" y2="681.2" stroke="#000" stroke-width="1.3"/>
<line x1="646.4" y1="695.2" x2="662.6" y2="695.2" stroke="#000" stroke-width="2"/>
<line x1="668.3" y1="695.2" x2="675.3" y2="695.2" stroke="#000" stroke-width="1.3"/>
<line x1="671.8" y1="691.7" x2="671.8" y2="698.7" stroke="#000" stroke-width="1.3"/>
<path d="M679.3,617.5 Q684.05,617.5 683.05,622.5 L683.05,637 Q683.05,641 686.8,641 Q683.05,641 683.05,645 L683.05,700.2 Q684.05,705.2 679.3,705.2" fill="none" stroke="#000" stroke-width="1.4"/>
<text x="695.20" y="636.70" font-family='"Liberation Serif", serif' font-weight="normal" font-size="12.67" fill="#000" textLength="34.2" lengthAdjust="spacingAndGlyphs" style="white-space:pre">D - C</text>
<text x="695.00" y="652.10" font-family='"Liberation Serif", serif' font-weight="normal" font-size="12.82" fill="#000" textLength="42.0" lengthAdjust="spacingAndGlyphs" style="white-space:pre">INPUT</text>
<text x="643.40" y="719.40" font-family='"Liberation Serif", serif' font-weight="normal" font-size="12.82" fill="#000" textLength="29.2" lengthAdjust="spacingAndGlyphs" style="white-space:pre">WYE</text>
<path d="M769.9,608.2 L769.9,473.6 L786.8,473.6 Q791,474.5 791,479 L791,601 Q791,608.2 784,608.2 Z" fill="none" stroke="#000" stroke-width="1.9"/>
<text x="773.00" y="487.20" font-family='"Liberation Serif", serif' font-weight="normal" font-size="13.13" fill="#000" textLength="8.5" lengthAdjust="spacingAndGlyphs" style="white-space:pre">A</text>
<text x="773.00" y="506.90" font-family='"Liberation Serif", serif' font-weight="normal" font-size="13.13" fill="#000" textLength="8.5" lengthAdjust="spacingAndGlyphs" style="white-space:pre">B</text>
<text x="773.00" y="525.70" font-family='"Liberation Serif", serif' font-weight="normal" font-size="13.13" fill="#000" textLength="8.5" lengthAdjust="spacingAndGlyphs" style="white-space:pre">C</text>
<text x="773.00" y="543.60" font-family='"Liberation Serif", serif' font-weight="normal" font-size="13.13" fill="#000" textLength="8.5" lengthAdjust="spacingAndGlyphs" style="white-space:pre">D</text>
<text x="773.00" y="561.50" font-family='"Liberation Serif", serif' font-weight="normal" font-size="13.13" fill="#000" textLength="8.5" lengthAdjust="spacingAndGlyphs" style="white-space:pre">G</text>
<text x="773.00" y="583.00" font-family='"Liberation Serif", serif' font-weight="normal" font-size="13.13" fill="#000" textLength="8.5" lengthAdjust="spacingAndGlyphs" style="white-space:pre">F</text>
<text x="773.00" y="602.70" font-family='"Liberation Serif", serif' font-weight="normal" font-size="13.13" fill="#000" textLength="8.5" lengthAdjust="spacingAndGlyphs" style="white-space:pre">E</text>
<line x1="790.4" y1="483" x2="857.6" y2="483" stroke="#000" stroke-width="1.8"/>
<line x1="790.4" y1="502" x2="857.6" y2="502" stroke="#000" stroke-width="1.8"/>
<line x1="790.4" y1="522" x2="857.6" y2="522" stroke="#000" stroke-width="1.8"/>
<polyline points="790.4,542 806.2,542 806.2,522" fill="none" stroke="#000" stroke-width="1.8"/>
<polyline points="790.4,558.5 824.5,558.5 824.5,502" fill="none" stroke="#000" stroke-width="1.8"/>
<polyline points="790.4,578.7 842.7,578.7 842.7,483" fill="none" stroke="#000" stroke-width="1.8"/>
<circle cx="806.2" cy="522" r="2.8" fill="#000"/>
<circle cx="824.5" cy="502" r="2.8" fill="#000"/>
<circle cx="842.7" cy="483" r="2.8" fill="#000"/>
<path d="M863,473 Q867.1,473 866.1,478 L866.1,497.7 Q866.1,501.7 869.2,501.7 Q866.1,501.7 866.1,505.7 L866.1,523.6 Q867.1,528.6 863,528.6" fill="none" stroke="#000" stroke-width="1.4"/>
<text x="883.65" y="489.85" font-family='"Liberation Serif", serif' font-weight="normal" font-size="11.76" fill="#000" stroke="#000" stroke-width="0.3" textLength="15.9" lengthAdjust="spacingAndGlyphs" style="white-space:pre">3 ø</text>
<text x="883.65" y="505.35" font-family='"Liberation Serif", serif' font-weight="normal" font-size="11.76" fill="#000" stroke="#000" stroke-width="0.3" textLength="23.9" lengthAdjust="spacingAndGlyphs" style="white-space:pre">A-C</text>
<text x="883.15" y="520.35" font-family='"Liberation Serif", serif' font-weight="normal" font-size="11.91" fill="#000" stroke="#000" stroke-width="0.3" textLength="54.0" lengthAdjust="spacingAndGlyphs" style="white-space:pre">OUTPUT</text>
<rect x="769.2" y="625" width="20.899999999999977" height="34.799999999999955" rx="2" fill="none" stroke="#000" stroke-width="2"/>
<line x1="776" y1="633" x2="783" y2="633" stroke="#000" stroke-width="1.6"/>
<line x1="776" y1="650.5" x2="783" y2="650.5" stroke="#000" stroke-width="1.2"/>
<line x1="790.1" y1="632.6" x2="839.4" y2="632.6" stroke="#000" stroke-width="1.8"/>
<line x1="852.8" y1="632.6" x2="862" y2="632.6" stroke="#000" stroke-width="1.6"/>
<line x1="790.1" y1="653.1" x2="839.4" y2="653.1" stroke="#000" stroke-width="1.8"/>
<line x1="852.8" y1="653.1" x2="862" y2="653.1" stroke="#000" stroke-width="1.6"/>
<rect x="769.5" y="671.5" width="20.5" height="35.5" rx="1" fill="none" stroke="#000" stroke-width="2"/>
<line x1="776" y1="680.5" x2="783" y2="680.5" stroke="#000" stroke-width="1.3"/>
<line x1="779.5" y1="677.0" x2="779.5" y2="684.0" stroke="#000" stroke-width="1.3"/>
<line x1="776" y1="698.3" x2="783" y2="698.3" stroke="#000" stroke-width="1.3"/>
<line x1="779.5" y1="694.8" x2="779.5" y2="701.8" stroke="#000" stroke-width="1.3"/>
<line x1="790" y1="677.7" x2="837.7" y2="677.7" stroke="#000" stroke-width="1.8"/>
<line x1="854" y1="677.7" x2="863" y2="677.7" stroke="#000" stroke-width="1.5"/>
<line x1="858.6" y1="673.7" x2="858.6" y2="681.7" stroke="#000" stroke-width="1.5"/>
<line x1="790" y1="697" x2="837.7" y2="697" stroke="#000" stroke-width="1.8"/>
<line x1="854" y1="697" x2="863" y2="697" stroke="#000" stroke-width="1.5"/>
<line x1="858.6" y1="693" x2="858.6" y2="701" stroke="#000" stroke-width="1.5"/>
<path d="M862.8,616.7 Q869.25,616.7 868.25,621.7 L868.25,632.8 Q868.25,636.8 873.7,636.8 Q868.25,636.8 868.25,640.8 L868.25,697.8 Q869.25,702.8 862.8,702.8" fill="none" stroke="#000" stroke-width="1.4"/>
<text x="883.05" y="623.55" font-family='"Liberation Serif", serif' font-weight="normal" font-size="12.82" fill="#000" stroke="#000" stroke-width="0.3" textLength="23.1" lengthAdjust="spacingAndGlyphs" style="white-space:pre">D-C</text>
<text x="883.15" y="640.25" font-family='"Liberation Serif", serif' font-weight="normal" font-size="11.45" fill="#000" stroke="#000" stroke-width="0.3" textLength="39.7" lengthAdjust="spacingAndGlyphs" style="white-space:pre">INPUT</text>
<text x="796.00" y="718.70" font-family='"Liberation Serif", serif' font-weight="normal" font-size="12.37" fill="#000" textLength="46.0" lengthAdjust="spacingAndGlyphs" style="white-space:pre">DELTA</text>
<text x="723.15" y="747.75" font-family='"Liberation Serif", serif' font-weight="normal" font-size="12.82" fill="#000" stroke="#000" stroke-width="0.3" textLength="235.3" lengthAdjust="spacingAndGlyphs" style="white-space:pre">CONNECTIONS EXTERNAL TO THE</text>
<text x="723.15" y="762.35" font-family='"Liberation Serif", serif' font-weight="normal" font-size="11.91" fill="#000" stroke="#000" stroke-width="0.3" textLength="225.5" lengthAdjust="spacingAndGlyphs" style="white-space:pre">INVERTER NECESSARY FOR WYE</text>
<text x="723.15" y="776.75" font-family='"Liberation Serif", serif' font-weight="normal" font-size="12.21" fill="#000" stroke="#000" stroke-width="0.3" textLength="186.3" lengthAdjust="spacingAndGlyphs" style="white-space:pre">(115/200 VOLT) AND DELTA</text>
<text x="723.15" y="791.35" font-family='"Liberation Serif", serif' font-weight="normal" font-size="12.82" fill="#000" stroke="#000" stroke-width="0.3" textLength="221.2" lengthAdjust="spacingAndGlyphs" style="white-space:pre">(115 VOLT) CONNECTIONS.   FOR</text>
<text x="723.15" y="805.55" font-family='"Liberation Serif", serif' font-weight="normal" font-size="12.82" fill="#000" stroke="#000" stroke-width="0.3" textLength="214.7" lengthAdjust="spacingAndGlyphs" style="white-space:pre">1 ø CONNECTION, SEE NOTE 1.</text>
</svg>
</body></html>
